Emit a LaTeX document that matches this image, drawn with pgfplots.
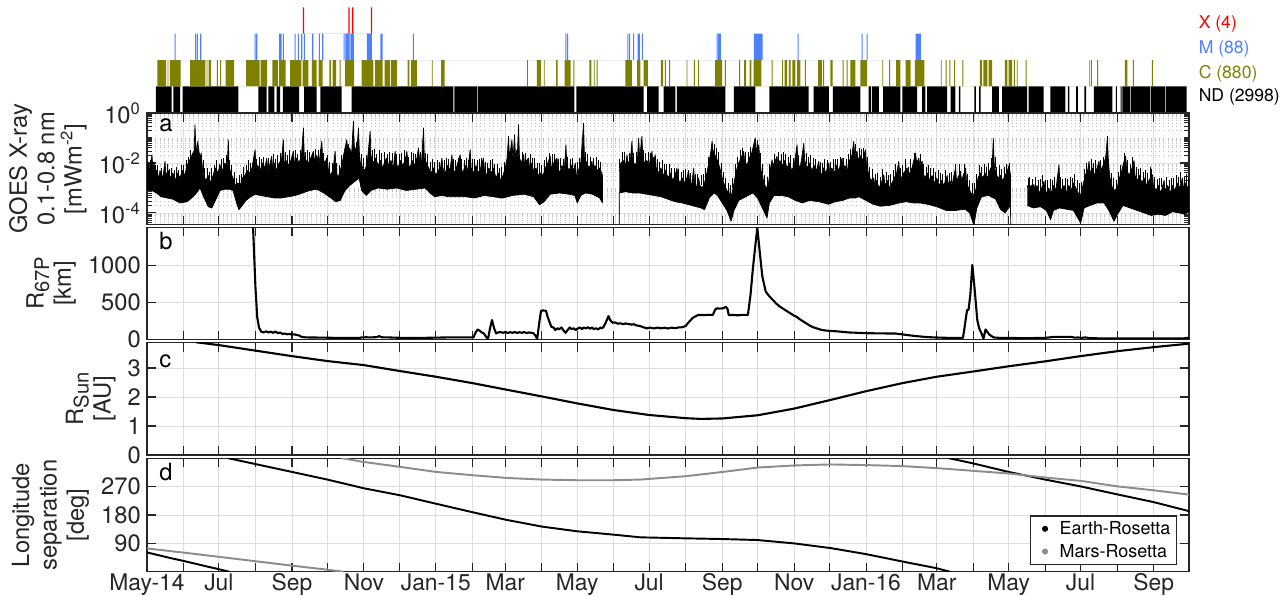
\documentclass[border=0pt]{standalone}
\usepackage{fontspec}
\setmainfont{TeX Gyre Heros}
\usepackage{pgfplots}
\pgfplotsset{compat=1.18}
\definecolor{axgray}{RGB}{38,38,38}
\definecolor{gridgray}{RGB}{222,222,222}
\definecolor{mingray}{RGB}{195,195,195}
\definecolor{mblue}{RGB}{77,128,255}
\definecolor{colive}{RGB}{128,128,0}
\definecolor{marsgray}{RGB}{140,140,140}
\newcommand{\tickfont}{\fontsize{13.5}{15.6}\selectfont}
\newcommand{\xtickfont}{\fontsize{13}{15}\selectfont}
\newcommand{\labfont}{\fontsize{13.5}{15.6}\selectfont}
\newcommand{\subfont}{\fontsize{11.5}{12}\selectfont}
\newcommand{\evfont}{\fontsize{10}{12}\selectfont}
\newcommand{\legfont}{\fontsize{10.2}{12}\selectfont}
\pgfplotsset{
  panel/.style={
    scale only axis, width=208.4mm,
    xmin=0, xmax=884,
    xtick={0,31,61,92,123,153,184,214,245,276,304,335,365,396,426,457,488,518,549,579,610,641,670,701,731,762,792,823,854,884},
    xticklabels={},
    xmajorgrids=true, ymajorgrids=true,
    major grid style={draw=gridgray, line width=0.5pt},
    axis line style={draw=axgray, line width=0.7pt},
    tick style={draw=axgray, line width=0.6pt},
    major tick length=1.8mm,
    minor tick length=1mm,
    tick align=inside,
    tick pos=both,
    ticklabel style={font=\tickfont, text=axgray},
    xticklabel style={font=\xtickfont, inner ysep=0.8pt},
    /pgf/number format/assume math mode=true,
    /pgf/number format/1000 sep={},
    ylabel style={font=\labfont, align=center, text=axgray},
  }
}
\begin{document}
\begin{tikzpicture}
\useasboundingbox (0,0) rectangle (256.8mm,-119.2mm);

% ---------------- event strips ----------------
\begin{axis}[at={(29.4mm,-1.46mm)}, anchor=north west, scale only axis,
  width=208.4mm, height=21.08mm, xmin=0, xmax=884, ymin=0, ymax=4,
  hide axis, clip=false]
\addplot[fill=black, draw=none] coordinates {
(7.6,0)(7.6,1)(20.9,1)(20.9,0) (22.4,0)(22.4,1)(28,1)(28,0) (30.3,0)(30.3,1)(77.5,1)(77.5,0)
(94.5,0)(94.5,1)(101.5,1)(101.5,0) (102.9,0)(102.9,1)(108,1)(108,0) (110,0)(110,1)(112.9,1)(112.9,0)
(115.2,0)(115.2,1)(129,1)(129,0) (133.3,0)(133.3,1)(144,1)(144,0) (147,0)(147,1)(165.2,1)(165.2,0)
(173.7,0)(173.7,1)(260,1)(260,0) (260.8,0)(260.8,1)(280,1)(280,0) (280.8,0)(280.8,1)(362.5,1)(362.5,0)
(364.2,0)(364.2,1)(421.3,1)(421.3,0) (424.2,0)(424.2,1)(434,1)(434,0) (438.3,0)(438.3,1)(448.2,1)(448.2,0)
(449.6,0)(449.6,1)(490.7,1)(490.7,0) (497.8,0)(497.8,1)(516.1,1)(516.1,0) (528,0)(528,1)(561.4,1)(561.4,0)
(565.6,0)(565.6,1)(578.4,1)(578.4,0) (581.8,0)(581.8,1)(605.3,1)(605.3,0) (612.3,0)(612.3,1)(614.3,1)(614.3,0)
(615.1,0)(615.1,1)(620.9,1)(620.9,0) (624.5,0)(624.5,1)(639.2,1)(639.2,0) (640.9,0)(640.9,1)(653.4,1)(653.4,0)
(657.6,0)(657.6,1)(660.4,1)(660.4,0) (661.8,0)(661.8,1)(678.9,1)(678.9,0) (681.7,0)(681.7,1)(685.9,1)(685.9,0)
(688.7,0)(688.7,1)(690.1,1)(690.1,0) (702,0)(702,1)(703.2,1)(703.2,0) (706,0)(706,1)(707.2,1)(707.2,0)
(717,0)(717,1)(722.7,1)(722.7,0) (725.5,0)(725.5,1)(746.6,1)(746.6,0) (748,0)(748,1)(760.7,1)(760.7,0)
(766.4,0)(766.4,1)(779.1,1)(779.1,0) (781.2,0)(781.2,1)(782.6,1)(782.6,0) (788.3,0)(788.3,1)(789.7,1)(789.7,0)
(795.3,0)(795.3,1)(796.7,1)(796.7,0) (803.2,0)(803.2,1)(818.9,1)(818.9,0) (822,0)(822,1)(822.8,1)(822.8,0)
(826,0)(826,1)(826.8,1)(826.8,0) (827.4,0)(827.4,1)(834.2,1)(834.2,0) (834.8,0)(834.8,1)(851.2,1)(851.2,0)
(851.8,0)(851.8,1)(863.9,1)(863.9,0) (864.5,0)(864.5,1)(882,1)(882,0)};
\addplot[fill=colive, draw=none] coordinates {
(8.7,1)(8.7,2)(16.2,2)(16.2,1) (17.5,1)(17.5,2)(18.2,2)(18.2,1) (19.5,1)(19.5,2)(28.6,2)(28.6,1)
(36.5,1)(36.5,2)(49.5,2)(49.5,1) (50.5,1)(50.5,2)(51.2,2)(51.2,1) (52.3,1)(52.3,2)(54.3,2)(54.3,1)
(59.3,1)(59.3,2)(60.1,2)(60.1,1) (62.1,1)(62.1,2)(62.9,2)(62.9,1) (66.8,1)(66.8,2)(73.9,2)(73.9,1)
(84,1)(84,2)(95.5,2)(95.5,1) (96.5,1)(96.5,2)(102,2)(102,1) (106.4,1)(106.4,2)(111,2)(111,1)
(112,1)(112,2)(117.7,2)(117.7,1) (121.4,1)(121.4,2)(131,2)(131,1) (132,1)(132,2)(136.9,2)(136.9,1)
(139.8,1)(139.8,2)(144,2)(144,1) (145.5,1)(145.5,2)(149.1,2)(149.1,1) (154.8,1)(154.8,2)(156,2)(156,1)
(157.5,1)(157.5,2)(160.4,2)(160.4,1) (163.4,1)(163.4,2)(164.2,2)(164.2,1) (168,1)(168,2)(175.7,2)(175.7,1)
(182,1)(182,2)(192,2)(192,1) (193.5,1)(193.5,2)(200,2)(200,1) (201.5,1)(201.5,2)(206,2)(206,1)
(207,1)(207,2)(212,2)(212,1) (221,1)(221,2)(222.5,2)(222.5,1) (224,1)(224,2)(229,2)(229,1)
(241.6,1)(241.6,2)(242.4,2)(242.4,1) (249.6,1)(249.6,2)(252.4,2)(252.4,1) (322.4,1)(322.4,2)(323.2,2)(323.2,1)
(330.8,1)(330.8,2)(334.2,2)(334.2,1) (336.6,1)(336.6,2)(337.4,2)(337.4,1) (347,1)(347,2)(348.3,2)(348.3,1)
(354.3,1)(354.3,2)(359.4,2)(359.4,1) (361.8,1)(361.8,2)(362.6,2)(362.6,1) (375.2,1)(375.2,2)(376.9,2)(376.9,1)
(379.2,1)(379.2,2)(379.8,2)(379.8,1) (381.5,1)(381.5,2)(382.3,2)(382.3,1) (405.8,1)(405.8,2)(411.4,2)(411.4,1)
(415.7,1)(415.7,2)(418.5,2)(418.5,1) (421.3,1)(421.3,2)(425,2)(425,1) (436,1)(436,2)(437.8,2)(437.8,1)
(439.3,1)(439.3,2)(440.1,2)(440.1,1) (443,1)(443,2)(443.8,2)(443.8,1) (457.7,1)(457.7,2)(458.5,2)(458.5,1)
(464,1)(464,2)(464.8,2)(464.8,1) (467.6,1)(467.6,2)(468.4,2)(468.4,1) (482,1)(482,2)(488,2)(488,1)
(490.3,1)(490.3,2)(491.1,2)(491.1,1) (502.4,1)(502.4,2)(503.2,2)(503.2,1) (506.5,1)(506.5,2)(508.2,2)(508.2,1)
(511.3,1)(511.3,2)(512.7,2)(512.7,1) (514.7,1)(514.7,2)(521.2,2)(521.2,1) (529.9,1)(529.9,2)(530.7,2)(530.7,1)
(538.8,1)(538.8,2)(539.5,2)(539.5,1) (541,1)(541,2)(543,2)(543,1) (544.5,1)(544.5,2)(546,2)(546,1)
(547.5,1)(547.5,2)(550,2)(550,1) (551.5,1)(551.5,2)(554.3,2)(554.3,1) (558.2,1)(558.2,2)(559,2)(559,1)
(569.3,1)(569.3,2)(572.6,2)(572.6,1) (573.6,1)(573.6,2)(574.4,2)(574.4,1) (579.8,1)(579.8,2)(581.7,2)(581.7,1)
(590.2,1)(590.2,2)(591,2)(591,1) (593.6,1)(593.6,2)(594.4,2)(594.4,1) (596.8,1)(596.8,2)(601,2)(601,1)
(605.3,1)(605.3,2)(611,2)(611,1) (623.8,1)(623.8,2)(624.6,2)(624.6,1) (629.6,1)(629.6,2)(630.4,2)(630.4,1)
(635.6,1)(635.6,2)(639.2,2)(639.2,1) (643.5,1)(643.5,2)(647.8,2)(647.8,1) (651.4,1)(651.4,2)(659.6,2)(659.6,1)
(673.4,1)(673.4,2)(674.2,2)(674.2,1) (677.6,1)(677.6,2)(678.4,2)(678.4,1) (680.7,1)(680.7,2)(681.5,2)(681.5,1)
(684.7,1)(684.7,2)(685.5,2)(685.5,1) (691.7,1)(691.7,2)(692.5,2)(692.5,1) (706.5,1)(706.5,2)(708.5,2)(708.5,1)
(709.5,1)(709.5,2)(713,2)(713,1) (714,1)(714,2)(717,2)(717,1) (727.8,1)(727.8,2)(730,2)(730,1)
(731,1)(731,2)(734,2)(734,1) (735.5,1)(735.5,2)(736.2,2)(736.2,1) (737.9,1)(737.9,2)(738.7,2)(738.7,1)
(745.5,1)(745.5,2)(746.3,2)(746.3,1) (799.4,1)(799.4,2)(800,2)(800,1) (800.7,1)(800.7,2)(801.5,2)(801.5,1)
(806.1,1)(806.1,2)(806.9,2)(806.9,1) (829.6,1)(829.6,2)(831.7,2)(831.7,1) (836.4,1)(836.4,2)(837.2,2)(837.2,1)
(852.5,1)(852.5,2)(853.3,2)(853.3,1)};
\addplot[fill=mblue, draw=none] coordinates {
(23.35,2)(23.35,3)(24.25,3)(24.25,2) (40.85,2)(40.85,3)(41.75,3)(41.75,2) (42.25,2)(42.25,3)(43.15,3)(43.15,2)
(45.15,2)(45.15,3)(46.05,3)(46.05,2) (91.25,2)(91.25,3)(92.15,3)(92.15,2) (92.65,2)(92.65,3)(93.55,3)(93.55,2)
(112.15,2)(112.15,3)(114.15,3)(114.15,2) (115.25,2)(115.25,3)(116.15,3)(116.15,2) (125.15,2)(125.15,3)(126.05,3)(126.05,2)
(128.05,2)(128.05,3)(128.95,3)(128.95,2) (130.85,2)(130.85,3)(131.75,3)(131.75,2) (133.05,2)(133.05,3)(133.95,3)(133.95,2)
(140.15,2)(140.15,3)(141.05,3)(141.05,2) (145.85,2)(145.85,3)(146.75,3)(146.75,2) (148.65,2)(148.65,3)(149.55,3)(149.55,2)
(166.75,2)(166.75,3)(167.65,3)(167.65,2) (168.2,2)(168.2,3)(172,3)(172,2) (172.6,2)(172.6,3)(175.5,3)(175.5,2)
(186.6,2)(186.6,3)(190.8,3)(190.8,2) (198,2)(198,3)(199.9,3)(199.9,2) (225.55,2)(225.55,3)(226.45,3)(226.45,2)
(354.95,2)(354.95,3)(355.85,3)(355.85,2) (356.35,2)(356.35,3)(357.25,3)(357.25,2) (407.55,2)(407.55,3)(408.45,3)(408.45,2)
(409.05,2)(409.05,3)(409.95,3)(409.95,2) (412.35,2)(412.35,3)(413.25,3)(413.25,2) (416.15,2)(416.15,3)(418.15,3)(418.15,2)
(419.75,2)(419.75,3)(420.65,3)(420.65,2) (483.15,2)(483.15,3)(484.05,3)(484.05,2) (484.55,2)(484.55,3)(486.85,3)(486.85,2)
(514.9,2)(514.9,3)(522.2,3)(522.2,2) (551.95,2)(551.95,3)(552.85,3)(552.85,2) (606.25,2)(606.25,3)(607.15,3)(607.15,2)
(610.55,2)(610.55,3)(611.45,3)(611.45,2) (652.1,2)(652.1,3)(656.6,3)(656.6,2)};
\addplot[fill=red, draw=none] coordinates {
(132.2,3)(132.2,4)(133.2,4)(133.2,3) (170.9,3)(170.9,4)(171.9,4)(171.9,3)
(174,3)(174,4)(175,4)(175,3) (190,3)(190,4)(191,4)(191,3)};
\node[anchor=west, inner sep=0pt, text=red, font=\evfont] at (axis cs:892,3.37) {X (4)};
\node[anchor=west, inner sep=0pt, text=mblue, font=\evfont] at (axis cs:892,2.43) {M (88)};
\node[anchor=west, inner sep=0pt, text=colive, font=\evfont] at (axis cs:892,1.49) {C (880)};
\node[anchor=west, inner sep=0pt, text=black, font=\evfont] at (axis cs:892,0.6) {ND (2998)};
\end{axis}

% ---------------- panel a ----------------
\begin{axis}[panel, at={(29.4mm,-22.6mm)}, anchor=north west, height=22.34mm,
  ymin=-4.47, ymax=0,
  ytick={-4,-2,0}, yticklabels={10\textsuperscript{-4},10\textsuperscript{-2},10\textsuperscript{0}},
  minor ytick={-4.398,-4.301,-4.222,-4.155,-4.097,-4.046,-3.699,-3.523,-3.398,-3.301,-3.222,-3.155,-3.097,-3.046,-3,-2.699,-2.523,-2.398,-2.301,-2.222,-2.155,-2.097,-2.046,-1.699,-1.523,-1.398,-1.301,-1.222,-1.155,-1.097,-1.046,-1,-0.699,-0.523,-0.398,-0.301,-0.222,-0.155,-0.097,-0.046},
  yminorgrids=true, minor grid style={draw=mingray, dotted, line width=0.5pt},
  ylabel={GOES X-ray\\0.1-0.8 nm\\{[}mWm\textsuperscript{-2}{]}}]
% segment 1: upper envelope forward, lower envelope backward
\addplot[fill=black, draw=black, line width=0.4pt, line join=round] coordinates {
(0,-2.2)(1,-2.0)(2,-2.3)(3,-2.1)(4.2,-1.67)(5,-2.2)(6,-2.0)(7,-2.4)(8,-2.3)(10,-2.6)(11,-2.3)(13,-2.6)(14,-2.4)(15.3,-1.93)(16,-2.5)(18,-2.3)(20,-2.6)(22,-2.4)(24,-2.7)(26,-2.4)(28,-2.6)(30,-2.3)(32,-2.5)(34,-2.1)(36,-1.9)(38,-1.7)(40,-1.5)(40.7,-0.47)(41.3,-1.2)(42.5,-1.6)(43,-1.13)(44,-1.5)(45,-1.8)(46,-1.6)(47,-2.2)(48,-2.5)(50,-2.7)(52,-2.5)(54,-2.8)(56,-2.5)(58,-2.2)(60,-2.4)(62,-2.1)(64,-2.3)(66,-2.0)(68,-2.2)(69,-1.07)(69.6,-2.1)(71,-2.4)(73,-2.6)(75,-2.9)(77,-2.8)(79,-2.9)(81,-2.6)(83,-2.5)(85,-2.3)(87,-2.4)(89,-2.2)(91.7,-1.47)(92.5,-2.2)(94,-2.1)(96,-2.3)(98,-2.0)(100,-2.2)(101.6,-1.8)(102.5,-2.3)(104,-2.1)(105.8,-1.73)(106.6,-2.2)(108,-2.0)(110,-2.3)(112,-2.0)(114,-1.9)(115.7,-1.07)(116.4,-2.0)(118,-1.9)(120,-2.1)(122,-1.9)(124.2,-1.53)(125,-2.0)(127,-1.8)(129,-2.0)(131,-1.7)(132.7,-0.6)(133.4,-1.7)(135,-1.9)(137,-2.0)(139,-1.8)(141.2,-1.53)(142,-1.9)(144,-1.7)(146,-2.0)(148.3,-1.13)(149,-1.8)(151,-2.0)(152.5,-1.8)(154,-2.3)(156,-2.5)(158,-2.2)(159.6,-1.53)(160.4,-2.3)(162,-2.6)(164,-2.3)(166,-1.9)(167.5,-1.5)(169.5,-1.07)(170.5,-1.6)(172,-1.4)(173.5,-1.7)(175.1,-0.33)(175.8,-1.3)(177,-1.5)(178.5,-1.2)(179.4,-0.6)(180.2,-1.6)(181,-2.0)(183,-2.2)(185,-2.3)(187,-1.9)(189.3,-0.73)(190,-1.7)(192,-2.0)(194,-1.8)(196,-2.1)(198,-1.9)(200,-2.2)(202,-1.9)(203.5,-1.8)(205,-2.1)(207,-1.9)(209,-2.2)(210.5,-1.53)(211.5,-2.0)(213,-2.2)(215,-1.9)(217,-2.1)(219,-1.9)(220.4,-1.53)(221.5,-2.0)(223,-2.2)(225,-1.9)(227,-2.1)(229,-1.8)(230.3,-1.4)(231.5,-2.0)(233,-1.9)(234.6,-0.6)(235.3,-1.8)(237,-2.0)(239,-2.2)(241,-2.4)(243,-2.2)(245,-2.5)(247,-2.3)(249,-2.2)(250.2,-1.8)(251,-2.2)(253,-2.4)(255,-2.1)(257,-2.3)(258.7,-1.67)(259.5,-2.2)(261,-2.4)(263,-2.1)(265.7,-1.67)(266.5,-2.2)(268,-2.4)(270,-2.1)(272,-2.3)(274.2,-1.47)(275,-2.2)(277,-2.4)(279,-2.1)(281,-2.4)(283,-2.2)(285.5,-1.8)(286.3,-2.3)(288,-2.5)(290,-2.2)(292,-2.4)(294,-2.2)(296,-2.6)(298,-2.4)(300,-2.7)(302,-2.5)(304,-2.2)(305.5,-1.8)(306.7,-0.93)(307.5,-1.8)(309.6,-1.07)(310.5,-1.9)(311.8,-0.87)(312.6,-1.7)(314,-1.9)(315.2,-0.47)(316,-1.8)(317.5,-2.0)(319.5,-1.67)(320.5,-2.1)(322,-1.9)(323.7,-1.8)(324.5,-2.2)(326,-2.0)(328,-2.3)(330,-2.2)(332,-2.5)(334,-2.4)(336,-2.5)(338,-2.2)(340,-2.0)(342.1,-1.73)(343,-2.2)(345,-2.0)(347.8,-1.8)(348.6,-2.2)(350,-2.4)(352,-2.1)(354,-2.3)(355.4,-1.27)(356.2,-2.1)(358,-2.3)(360,-2.1)(362,-2.3)(363.3,-2.0)(364.5,-2.6)(366,-2.3)(368,-2.0)(370.4,-0.4)(371.1,-1.8)(373,-2.0)(375,-2.2)(377.5,-1.93)(378.3,-2.3)(380,-2.1)(382,-2.3)(384,-2.2)(386.5,-2.5)
(386.5,-3.6)(384,-3.4)(378,-3.25)(372,-3.2)(368,-3.3)(365,-3.6)(363,-3.3)(358,-3.25)(350,-3.2)(342,-3.25)(337,-3.55)(333,-3.67)(328,-3.35)(320,-3.25)(310,-3.3)(302,-3.4)(300,-3.4)(294,-3.35)(286,-3.3)(278,-3.4)(270,-3.35)(262,-3.35)(256,-3.35)(250,-3.3)(244,-3.35)(240,-3.2)(236,-3.0)(228,-3.05)(220,-3.1)(212,-3.0)(204,-3.05)(196,-3.0)(190,-3.1)(186,-3.3)(182,-3.1)(180,-2.6)(176,-2.75)(172,-2.9)(168,-3.1)(164,-3.5)(160,-3.55)(156,-3.4)(150,-3.2)(144,-3.05)(138,-3.1)(132,-3.2)(126,-3.3)(120,-3.35)(114,-3.4)(108,-3.4)(102,-3.35)(96,-3.3)(92,-3.25)(88,-3.35)(84,-3.5)(80,-3.75)(78,-3.87)(76,-3.6)(73,-3.1)(70,-3.05)(66,-3.05)(62,-3.1)(58,-3.5)(55,-3.8)(52,-3.75)(48,-3.35)(45,-3.0)(42,-3.2)(38,-3.4)(34,-3.55)(28,-3.6)(22,-3.45)(17,-3.4)(12,-3.35)(8,-3.2)(4,-3.1)(0,-3.07)};
% segment 2
\addplot[fill=black, draw=black, line width=0.4pt, line join=round] coordinates {
(400.7,-2.33)(402,-2.0)(404,-1.9)(406,-2.1)(407.2,-1.67)(408,-2.0)(410,-1.9)(411.4,-1.13)(412.2,-1.9)(414,-2.1)(416,-1.9)(417.1,-1.0)(418,-1.8)(419.9,-0.93)(420.7,-1.8)(422,-2.0)(424,-1.9)(426,-2.1)(428.4,-1.53)(429.2,-2.1)(431.2,-1.67)(432,-2.2)(434,-2.4)(436,-2.2)(438,-2.5)(440,-2.3)(442,-2.6)(444,-2.4)(446,-2.7)(448,-2.5)(449.6,-2.2)(450.5,-2.6)(452,-2.8)(454,-2.6)(456,-2.8)(458,-2.6)(459.5,-2.3)(460.3,-2.7)(462,-2.9)(463.8,-2.2)(464.6,-2.8)(466,-3.0)(468,-2.6)(469,-2.9)(471,-3.0)(473,-2.8)(475,-2.4)(477,-1.9)(478.5,-1.5)(479.4,-1.13)(480.2,-1.5)(482,-1.7)(484,-1.9)(486,-2.2)(488,-2.6)(490,-2.9)(492,-3.1)(494,-3.2)(496,-3.27)(498,-2.8)(500,-2.3)(502,-2.0)(504,-1.8)(506.2,-1.53)(507,-1.9)(509,-2.1)(511,-1.8)(513,-1.6)(514.5,-1.3)(516.1,-1.0)(517,-1.5)(519,-1.27)(519.8,-1.8)(521,-2.3)(523,-2.7)(525,-3.0)(527,-2.9)(529,-2.2)(530.3,-1.87)(531,-2.1)(533,-1.9)(534.5,-1.73)(535.3,-2.1)(537,-1.9)(539,-2.1)(541,-1.9)(543,-2.2)(545,-2.0)(547,-2.3)(549,-2.1)(551.5,-1.27)(552.3,-2.0)(554,-2.2)(555.5,-1.8)(557.2,-1.2)(558,-1.9)(560,-2.2)(562,-2.0)(564,-2.3)(566,-2.1)(568,-2.3)(569.9,-1.93)(570.7,-2.3)(572,-2.5)(574,-2.2)(576,-2.4)(578.4,-2.0)(579.2,-2.4)(581,-2.2)(583,-2.4)(585,-2.1)(587,-2.3)(589.7,-1.8)(590.5,-2.3)(592,-2.1)(594,-2.3)(596,-1.9)(598,-1.7)(599.6,-1.13)(600.4,-1.7)(602.4,-1.53)(603.2,-1.9)(605,-1.7)(607,-1.9)(609.5,-1.47)(610.3,-2.0)(612,-2.4)(614,-2.7)(616.6,-2.6)(617.4,-2.9)(619,-2.7)(621,-3.0)(623,-2.8)(625.1,-2.47)(626,-2.9)(628,-2.7)(630,-3.0)(632,-2.8)(634,-2.6)(636,-2.4)(637.8,-1.93)(638.6,-2.5)(640,-2.6)(642,-2.4)(644.9,-2.2)(645.7,-2.6)(647,-2.4)(649,-2.2)(650.5,-1.9)(652,-1.6)(653,-2.0)(654.8,-1.8)(655.6,-2.1)(657.6,-1.93)(658.4,-2.4)(660,-2.6)(662,-2.4)(664,-2.7)(666,-2.5)(668,-2.8)(670,-2.6)(672,-2.9)(674,-2.7)(676,-2.9)(678.9,-2.5)(679.7,-2.9)(681,-2.7)(683,-2.9)(684.5,-2.5)(686,-2.2)(686.8,-2.7)(688,-2.6)(690.2,-2.33)(691,-2.7)(692.5,-2.5)(694.5,-2.2)(695.3,-2.8)(697,-3.0)(699,-3.2)(701,-3.3)(703,-3.1)(705,-2.6)(707,-2.4)(709,-2.6)(711,-2.4)(713,-2.6)(715,-2.3)(717,-2.1)(718,-1.0)(718.7,-2.0)(720,-2.4)(722,-2.6)(724,-2.5)(726,-2.7)(728,-2.5)(730,-2.3)(731.3,-2.1)(732.6,-2.5)
(732.7,-4.6)(732.6,-3.7)(731,-3.8)(728,-4.0)(724,-3.85)(720,-3.45)(714,-3.3)(708,-3.35)(704,-3.8)(701.5,-4.5)(698,-4.0)(694,-3.85)(686,-3.9)(678,-3.9)(670,-3.75)(662,-3.65)(656,-3.6)(650,-3.6)(644,-3.55)(638,-3.6)(630,-3.7)(622,-3.73)(616,-3.65)(610,-3.5)(604,-3.35)(601,-3.4)(596,-3.4)(590,-3.5)(584,-3.55)(578,-3.65)(570,-3.55)(562,-3.5)(556,-3.6)(550,-3.5)(544,-3.35)(538,-3.3)(532,-3.3)(528,-3.6)(526,-4.2)(522,-3.8)(518,-3.4)(514,-3.2)(508,-3.35)(502,-3.5)(498,-3.9)(495.5,-4.33)(492,-3.9)(488,-3.6)(484,-3.3)(481,-3.2)(477,-3.4)(473,-3.87)(470,-3.8)(466,-3.75)(462,-3.7)(458,-3.65)(454,-3.6)(448,-3.55)(442,-3.45)(436,-3.35)(430,-3.3)(424,-3.25)(418,-3.2)(412,-3.2)(406,-3.15)(400.7,-3.2)(400.6,-4.6)};
% segment 3
\addplot[fill=black, draw=black, line width=0.4pt, line join=round] coordinates {
(746.8,-2.9)(748,-3.1)(750,-2.9)(752.5,-2.87)(753.3,-3.1)(755,-2.9)(757,-3.2)(759,-3.0)(761,-2.73)(761.8,-3.1)(763,-3.2)(765,-3.0)(767,-3.2)(769,-2.9)(771,-3.1)(773.7,-2.07)(774.5,-2.9)(776,-3.1)(778,-2.9)(780,-3.2)(782,-2.9)(784,-3.1)(786,-2.8)(788,-3.0)(790,-3.2)(792,-3.3)(794,-2.9)(796,-2.5)(798,-2.3)(799.2,-1.93)(800,-2.4)(802,-2.2)(804,-2.5)(806,-2.2)(807.7,-1.93)(808.5,-2.4)(810,-2.2)(812,-2.0)(813.5,-1.7)(814.8,-0.93)(815.6,-2.0)(817,-2.6)(819,-3.0)(821,-3.1)(823,-3.0)(825,-2.6)(827,-2.3)(828.5,-2.0)(830.3,-1.73)(831,-2.2)(833,-2.5)(835,-2.3)(837.4,-1.9)(838.2,-2.5)(840,-2.7)(842,-2.5)(844,-2.8)(846,-2.6)(848,-2.9)(850,-2.7)(853,-2.47)(853.8,-2.9)(856,-3.1)(858,-2.9)(860,-3.2)(862.9,-2.7)(863.7,-3.1)(866,-2.9)(868,-3.2)(870,-2.9)(872,-3.1)(874,-2.8)(876,-3.0)(878.4,-2.6)(879.2,-3.0)(881,-2.8)(883,-3.0)(884,-2.9)
(884,-3.95)(880,-4.05)(876,-4.0)(870,-3.95)(864,-4.1)(858,-4.05)(852,-4.1)(846,-4.0)(840,-3.9)(834,-3.8)(828,-3.7)(824,-4.0)(820.4,-4.33)(816,-3.9)(812,-3.6)(806,-3.6)(800,-3.7)(795,-3.8)(792.1,-4.4)(786,-3.9)(780,-3.85)(774,-3.8)(769,-3.9)(766.6,-4.27)(763,-3.9)(758,-3.75)(752,-3.8)(746.8,-3.7)};
% thin flare spikes on top of the band
\addplot[draw=none, mark=none, forget plot, error bars/.cd, y dir=plus, y explicit, error mark=none,
  error bar style={draw=black, line width=0.45pt}] coordinates {
(0.5,-2.3)+-(0,0.3) (2.5,-2.3)+-(0,0.4) (5.5,-2.3)+-(0,0.35) (7.5,-2.4)+-(0,0.3) (9,-2.5)+-(0,0.4) (12,-2.55)+-(0,0.35) (14.5,-2.5)+-(0,0.3) (17,-2.5)+-(0,0.45) (19,-2.55)+-(0,0.3) (21,-2.6)+-(0,0.4) (23,-2.6)+-(0,0.3) (25,-2.6)+-(0,0.45) (27,-2.6)+-(0,0.3) (29,-2.5)+-(0,0.4) (31,-2.45)+-(0,0.35) (33,-2.4)+-(0,0.5) (35,-2.2)+-(0,0.45) (37,-2.0)+-(0,0.5) (39,-1.9)+-(0,0.3)
(47.5,-2.4)+-(0,0.5) (49,-2.6)+-(0,0.4) (51,-2.65)+-(0,0.45) (53,-2.7)+-(0,0.35) (55,-2.7)+-(0,0.5) (57,-2.5)+-(0,0.4) (59,-2.4)+-(0,0.5) (61,-2.35)+-(0,0.3) (63,-2.3)+-(0,0.45) (65,-2.2)+-(0,0.4) (67,-2.2)+-(0,0.5) (70,-2.3)+-(0,0.4) (72,-2.5)+-(0,0.4) (74,-2.8)+-(0,0.45) (76,-2.9)+-(0,0.3) (78,-2.9)+-(0,0.4) (80,-2.8)+-(0,0.35) (82,-2.6)+-(0,0.45) (84,-2.5)+-(0,0.4) (86,-2.4)+-(0,0.5) (88,-2.35)+-(0,0.35) (90,-2.3)+-(0,0.45) (93,-2.25)+-(0,0.4) (95,-2.25)+-(0,0.5) (97,-2.2)+-(0,0.35) (99,-2.2)+-(0,0.45)
(103,-2.2)+-(0,0.4) (107,-2.1)+-(0,0.45) (109,-2.2)+-(0,0.35) (111,-2.2)+-(0,0.5) (113,-2.0)+-(0,0.4) (117,-2.0)+-(0,0.45) (119,-2.0)+-(0,0.3) (121,-2.0)+-(0,0.5) (123,-2.0)+-(0,0.35) (126,-1.95)+-(0,0.45) (128,-1.95)+-(0,0.3) (130,-1.9)+-(0,0.4) (134,-1.9)+-(0,0.35) (136,-2.0)+-(0,0.5) (138,-1.95)+-(0,0.4) (140,-1.9)+-(0,0.3) (143,-1.9)+-(0,0.45) (145,-1.9)+-(0,0.4) (147,-1.95)+-(0,0.5) (150,-1.95)+-(0,0.35) (153,-2.1)+-(0,0.4) (155,-2.4)+-(0,0.45) (157,-2.4)+-(0,0.4) (161,-2.45)+-(0,0.45) (163,-2.45)+-(0,0.35) (165,-2.1)+-(0,0.4) (171,-1.6)+-(0,0.35) (174,-1.6)+-(0,0.5) (177.8,-1.45)+-(0,0.3)
(182,-2.1)+-(0,0.45) (184,-2.2)+-(0,0.4) (186,-2.2)+-(0,0.5) (188,-2.0)+-(0,0.45) (191,-1.9)+-(0,0.4) (193,-1.9)+-(0,0.45) (195,-2.0)+-(0,0.35) (197,-2.0)+-(0,0.5) (199,-2.0)+-(0,0.4) (201,-2.0)+-(0,0.45) (204,-2.0)+-(0,0.35) (206,-2.0)+-(0,0.45) (208,-2.0)+-(0,0.4) (212,-2.1)+-(0,0.45) (214,-2.0)+-(0,0.35) (216,-2.0)+-(0,0.4) (218,-2.0)+-(0,0.5) (222,-2.1)+-(0,0.35) (224,-2.0)+-(0,0.45) (226,-2.0)+-(0,0.4) (228,-2.0)+-(0,0.35) (232,-2.0)+-(0,0.45) (236,-2.0)+-(0,0.4) (238,-2.1)+-(0,0.45) (240,-2.3)+-(0,0.35) (242,-2.3)+-(0,0.45) (244,-2.35)+-(0,0.4) (246,-2.4)+-(0,0.5) (248,-2.3)+-(0,0.35)
(252,-2.3)+-(0,0.4) (254,-2.25)+-(0,0.45) (256,-2.2)+-(0,0.35) (260,-2.3)+-(0,0.45) (262,-2.25)+-(0,0.35) (264,-2.2)+-(0,0.4) (267,-2.3)+-(0,0.45) (269,-2.25)+-(0,0.35) (271,-2.2)+-(0,0.4) (273,-2.25)+-(0,0.35) (276,-2.3)+-(0,0.45) (278,-2.25)+-(0,0.4) (280,-2.25)+-(0,0.35) (282,-2.3)+-(0,0.45) (284,-2.2)+-(0,0.4) (287,-2.4)+-(0,0.45) (289,-2.35)+-(0,0.35) (291,-2.3)+-(0,0.4) (293,-2.3)+-(0,0.45) (295,-2.4)+-(0,0.35) (297,-2.5)+-(0,0.45) (299,-2.55)+-(0,0.35) (301,-2.6)+-(0,0.45) (303,-2.35)+-(0,0.4)
(308.5,-1.9)+-(0,0.4) (313,-1.85)+-(0,0.35) (318.5,-2.0)+-(0,0.45) (321,-2.0)+-(0,0.4) (325,-2.1)+-(0,0.45) (327,-2.15)+-(0,0.35) (329,-2.25)+-(0,0.45) (331,-2.35)+-(0,0.35) (333,-2.45)+-(0,0.45) (335,-2.45)+-(0,0.35) (337,-2.35)+-(0,0.45) (339,-2.1)+-(0,0.35) (341,-2.0)+-(0,0.4) (344,-2.1)+-(0,0.45) (346,-2.0)+-(0,0.35) (349,-2.3)+-(0,0.45) (351,-2.2)+-(0,0.4) (353,-2.2)+-(0,0.35) (357,-2.2)+-(0,0.45) (359,-2.2)+-(0,0.35) (361,-2.2)+-(0,0.4) (365,-2.4)+-(0,0.45) (367,-2.15)+-(0,0.35) (369,-2.0)+-(0,0.4) (372,-1.9)+-(0,0.35) (374,-2.1)+-(0,0.45) (376,-2.1)+-(0,0.35) (379,-2.2)+-(0,0.4) (381,-2.2)+-(0,0.45) (383,-2.25)+-(0,0.35) (385,-2.35)+-(0,0.4)
(401,-2.2)+-(0,0.35) (403,-1.95)+-(0,0.4) (405,-2.0)+-(0,0.45) (409,-1.95)+-(0,0.35) (413,-2.0)+-(0,0.4) (415,-2.0)+-(0,0.45) (421,-1.9)+-(0,0.4) (423,-1.95)+-(0,0.35) (425,-2.0)+-(0,0.45) (427,-2.0)+-(0,0.4) (430,-2.1)+-(0,0.35) (433,-2.3)+-(0,0.45) (435,-2.3)+-(0,0.35) (437,-2.35)+-(0,0.45) (439,-2.4)+-(0,0.35) (441,-2.45)+-(0,0.4) (443,-2.5)+-(0,0.45) (445,-2.55)+-(0,0.35) (447,-2.6)+-(0,0.4) (451,-2.7)+-(0,0.45) (453,-2.7)+-(0,0.35) (455,-2.7)+-(0,0.4) (457,-2.7)+-(0,0.45) (461,-2.8)+-(0,0.4) (465,-2.9)+-(0,0.45) (467,-2.8)+-(0,0.35) (470,-2.9)+-(0,0.4) (472,-2.9)+-(0,0.45) (474,-2.6)+-(0,0.4) (476,-2.1)+-(0,0.35)
(481,-1.6)+-(0,0.35) (483,-1.8)+-(0,0.4) (485,-2.0)+-(0,0.45) (487,-2.4)+-(0,0.4) (489,-2.7)+-(0,0.35) (491,-3.0)+-(0,0.4) (493,-3.15)+-(0,0.35) (495,-3.2)+-(0,0.3) (497,-3.0)+-(0,0.4) (499,-2.5)+-(0,0.45) (501,-2.1)+-(0,0.35) (503,-1.9)+-(0,0.4) (505,-1.7)+-(0,0.3) (508,-2.0)+-(0,0.45) (510,-1.9)+-(0,0.35) (512,-1.7)+-(0,0.35) (518,-1.4)+-(0,0.3) (520.5,-2.0)+-(0,0.4) (522,-2.5)+-(0,0.45) (524,-2.85)+-(0,0.35) (526,-2.95)+-(0,0.4) (528,-2.5)+-(0,0.45) (532,-2.0)+-(0,0.35) (536,-2.0)+-(0,0.45) (538,-2.0)+-(0,0.35) (540,-2.0)+-(0,0.45) (542,-2.05)+-(0,0.4) (544,-2.1)+-(0,0.35) (546,-2.15)+-(0,0.45) (548,-2.2)+-(0,0.4) (550,-2.1)+-(0,0.35)
(553,-2.1)+-(0,0.4) (556.3,-2.0)+-(0,0.35) (559,-2.05)+-(0,0.45) (561,-2.1)+-(0,0.35) (563,-2.15)+-(0,0.45) (565,-2.2)+-(0,0.4) (567,-2.2)+-(0,0.35) (571.5,-2.4)+-(0,0.45) (573,-2.35)+-(0,0.35) (575,-2.3)+-(0,0.45) (577,-2.3)+-(0,0.4) (580,-2.3)+-(0,0.35) (582,-2.3)+-(0,0.45) (584,-2.25)+-(0,0.4) (586,-2.2)+-(0,0.35) (588,-2.2)+-(0,0.45) (591,-2.2)+-(0,0.4) (593,-2.2)+-(0,0.35) (595,-2.1)+-(0,0.45) (597,-1.8)+-(0,0.35) (601,-1.6)+-(0,0.35) (604,-1.8)+-(0,0.4) (606,-1.8)+-(0,0.35) (608,-1.8)+-(0,0.4) (611,-2.2)+-(0,0.45) (613,-2.55)+-(0,0.4) (615,-2.7)+-(0,0.45) (618,-2.8)+-(0,0.35) (620,-2.85)+-(0,0.45) (622,-2.9)+-(0,0.35) (624,-2.65)+-(0,0.4) (627,-2.8)+-(0,0.45) (629,-2.85)+-(0,0.35) (631,-2.9)+-(0,0.45) (633,-2.7)+-(0,0.4) (635,-2.5)+-(0,0.45)
(639,-2.55)+-(0,0.35) (641,-2.5)+-(0,0.4) (643,-2.3)+-(0,0.45) (646,-2.5)+-(0,0.35) (648,-2.3)+-(0,0.45) (651,-2.0)+-(0,0.4) (656.5,-2.0)+-(0,0.35) (659,-2.5)+-(0,0.45) (661,-2.5)+-(0,0.35) (663,-2.55)+-(0,0.45) (665,-2.6)+-(0,0.4) (667,-2.65)+-(0,0.45) (669,-2.7)+-(0,0.35) (671,-2.75)+-(0,0.45) (673,-2.8)+-(0,0.4) (675,-2.8)+-(0,0.35) (677,-2.75)+-(0,0.45) (680.5,-2.8)+-(0,0.4) (682,-2.8)+-(0,0.45) (685.5,-2.4)+-(0,0.35) (689,-2.45)+-(0,0.4) (693.5,-2.4)+-(0,0.35) (696,-2.9)+-(0,0.45) (698,-3.1)+-(0,0.4) (700,-3.25)+-(0,0.45) (702,-3.2)+-(0,0.4) (704,-2.9)+-(0,0.45) (706,-2.5)+-(0,0.4) (708,-2.5)+-(0,0.35) (710,-2.5)+-(0,0.45) (712,-2.5)+-(0,0.35) (714,-2.45)+-(0,0.45) (716,-2.2)+-(0,0.4) (719.5,-2.2)+-(0,0.45) (721,-2.5)+-(0,0.35) (723,-2.55)+-(0,0.45) (725,-2.6)+-(0,0.35) (727,-2.6)+-(0,0.45) (729,-2.4)+-(0,0.35) (732,-2.3)+-(0,0.3)
(747.5,-3.0)+-(0,0.4) (749,-3.0)+-(0,0.45) (751,-3.0)+-(0,0.35) (754,-3.0)+-(0,0.45) (756,-3.05)+-(0,0.35) (758,-3.1)+-(0,0.45) (760,-2.85)+-(0,0.35) (762.5,-3.15)+-(0,0.45) (764,-3.1)+-(0,0.4) (766,-3.1)+-(0,0.45) (768,-3.05)+-(0,0.35) (770,-3.0)+-(0,0.45) (772,-3.0)+-(0,0.4) (775,-3.0)+-(0,0.45) (777,-3.0)+-(0,0.35) (779,-3.05)+-(0,0.45) (781,-3.05)+-(0,0.4) (783,-3.0)+-(0,0.45) (785,-2.95)+-(0,0.35) (787,-2.9)+-(0,0.45) (789,-3.1)+-(0,0.4) (791,-3.25)+-(0,0.45) (793,-3.1)+-(0,0.35) (795,-2.7)+-(0,0.45) (797,-2.4)+-(0,0.4) (801,-2.3)+-(0,0.45) (803,-2.35)+-(0,0.35) (805,-2.35)+-(0,0.45) (809,-2.3)+-(0,0.4) (811,-2.1)+-(0,0.35) (816,-2.3)+-(0,0.45)
(818,-2.8)+-(0,0.4) (820,-3.05)+-(0,0.45) (822,-3.05)+-(0,0.35) (824,-2.8)+-(0,0.45) (826,-2.45)+-(0,0.35) (829.5,-1.9)+-(0,0.3) (832,-2.35)+-(0,0.45) (834,-2.4)+-(0,0.35) (836,-2.1)+-(0,0.35) (839,-2.6)+-(0,0.45) (841,-2.6)+-(0,0.35) (843,-2.65)+-(0,0.45) (845,-2.7)+-(0,0.35) (847,-2.75)+-(0,0.45) (849,-2.8)+-(0,0.4) (851,-2.6)+-(0,0.45) (852,-2.55)+-(0,0.3) (855,-3.0)+-(0,0.45) (857,-3.0)+-(0,0.35) (859,-3.05)+-(0,0.45) (861,-2.95)+-(0,0.35) (865,-3.0)+-(0,0.45) (867,-3.05)+-(0,0.35) (869,-3.05)+-(0,0.45) (871,-3.0)+-(0,0.4) (873,-2.95)+-(0,0.45) (875,-2.9)+-(0,0.35) (877,-2.8)+-(0,0.45) (880,-2.9)+-(0,0.35) (882,-2.9)+-(0,0.45) (883.5,-2.95)+-(0,0.35)};
\node[anchor=base west, font=\labfont] at (rel axis cs:0.0058,0.83) {a};
\end{axis}

% ---------------- panel b ----------------
\begin{axis}[panel, at={(29.4mm,-45.46mm)}, anchor=north west, height=22.44mm,
  ymin=0, ymax=1507, ytick={0,500,1000},
  ylabel={R\raisebox{-0.45ex}{\subfont 67P}\\{[}km{]}}]
\addplot[black, line width=1.2pt, line join=round] coordinates {
(85,4000)(90,1500)(92,700)(93.5,300)(95,160)(97,103)(99,95)(101,110)(103,95)(105,105)(107,90)(109,108)(111,85)(113,95)(115,75)(117,80)(119,70)(121,75)(123,65)(125,70)(127,60)(129,55)(131,35)(135,28)(140,27)(150,25)(160,22)(170,20)(180,20)(182,28)(186,30)(190,28)(195,32)(197,45)(199,30)(205,28)(215,22)(225,20)(235,22)(245,25)(255,28)(265,28)(275,28)(277,30)(279,100)(280.6,135)(282,120)(284,95)(285.8,81)(287.5,40)(289.3,6)(291,150)(292.7,261)(294.5,150)(296.2,81)(298,95)(300,100)(302,90)(304,100)(306,88)(308,98)(310,90)(312,100)(314,88)(316,98)(318,90)(320,100)(322,85)(324,95)(326,90)(328,85)(330,40)(331,5)(333,250)(334.3,387)(336,390)(338.5,385)(340,300)(343,171)(345,160)(346.4,126)(348,150)(350,140)(351.6,162)(353,130)(355.1,90)(357,130)(358.6,162)(360,140)(362,150)(363.8,126)(365,145)(367.2,162)(369,140)(370.5,160)(372.4,150)(374,165)(376,145)(377.6,162)(379,140)(381,150)(382.8,135)(384.5,160)(386,150)(387.3,170)(389,220)(391.5,315)(393,260)(394.9,225)(397,230)(399,215)(401.9,216)(404,205)(406,215)(408.8,207)(411,200)(413,205)(415,190)(418.5,180)(421,165)(424,150)(427,160)(430,148)(433,160)(436,150)(439,158)(442,148)(445,160)(448,152)(451,162)(454,165)(456.9,180)(460,240)(463,290)(467.3,328)(470,330)(473,328)(476,332)(478,330)(480,330)(482,400)(483,418)(486,415)(489,420)(491,440)(492.5,410)(493.5,328)(497,330)(501,325)(505,330)(509.8,330)(512,600)(514,950)(516,1250)(517.8,1500)(520,1150)(522,850)(524.9,643)(528,580)(531,530)(534,480)(537,441)(540,410)(543,380)(546,350)(549,320)(551,306)(554,270)(557,240)(560,210)(563,180)(566,160)(568.4,148)(572,130)(576,120)(580,115)(585,110)(590,103)(595,95)(600,92)(605,88)(610,85)(615,84)(620,82)(625,82)(630,80)(634.6,81)(640,70)(645,60)(650,50)(655,42)(660,35)(665,30)(669.5,27)(675,24)(680,22)(685,21)(692.2,21)(693.5,150)(695.7,396)(697,400)(698.5,600)(700.2,1003)(702,700)(704.4,261)(706,150)(708,80)(709.6,13)(711.4,135)(713,100)(715,60)(718.4,27)(725,20)(735,20)(745,18)(755,20)(762,22)(770,36)(778,36)(784.6,34)(787,25)(790,27)(793,22)(796,28)(800,18)(810,15)(820,15)(830,14)(840,15)(850,15)(860,15)(870,16)(880,16)(884,25)};
\node[anchor=base west, font=\labfont] at (rel axis cs:0.0058,0.798) {b};
\end{axis}

% ---------------- panel c ----------------
\begin{axis}[panel, at={(29.4mm,-68.5mm)}, anchor=north west, height=22.5mm,
  ymin=0, ymax=3.88, ytick={0,1,2,3},
  ylabel={R\raisebox{-0.45ex}{\subfont Sun}\\{[}AU{]}}]
\addplot[black, line width=1.2pt] coordinates {
(41.5,3.89)(61,3.79)(92,3.6)(123,3.41)(153,3.24)(184,3.1)(214,2.9)(245,2.7)(276,2.48)(304,2.26)(335,2.02)(365,1.78)(396,1.55)(426,1.38)(457,1.27)(470,1.245)(488,1.26)(518,1.37)(549,1.6)(580,1.9)(610,2.2)(641,2.48)(670,2.7)(701,2.88)(731,3.06)(762,3.23)(792,3.41)(823,3.58)(854,3.72)(884,3.84)};
\node[anchor=base west, font=\labfont] at (rel axis cs:0.0058,0.782) {c};
\end{axis}

% ---------------- panel d ----------------
\begin{axis}[panel, at={(29.4mm,-91.68mm)}, anchor=north west, height=22.64mm,
  ymin=0, ymax=360, ytick={90,180,270},
  xticklabels={May-14,,Jul,,Sep,,Nov,,Jan-15,,Mar,,May,,Jul,,Sep,,Nov,,Jan-16,,Mar,,May,,Jul,,Sep,},
  ylabel={Longitude\\separation\\{[}deg{]}},
  legend style={at={(rel axis cs:0.9885,0.054)}, anchor=south east, draw=axgray,
    fill=white, font=\legfont, inner xsep=2pt, inner ysep=1.5pt, row sep=1pt,
    nodes={inner sep=1.5pt}, cells={anchor=west}, line width=0.6pt},
  legend image code/.code={\path (0,0) (0.42cm,0); \fill[#1] (0.2cm,0) circle (0.4mm);}]
\addplot[black, line width=1.1pt] coordinates {
(0,61)(10,52)(20,43)(31,34)(40,26)(50,17)(60,8.5)(69.2,0)(69.8,-1)};
\addlegendentry{Earth-Rosetta}
\addplot[marsgray, line width=1.1pt] coordinates {
(0,73.7)(31,60.5)(61,47)(92,33)(123,19)(153,6)(165.6,0)(166.6,-1)};
\addlegendentry{Mars-Rosetta}
\addplot[black, line width=1.1pt, forget plot] coordinates {
(68.5,361)(92,342)(123,317)(153,292.7)(184,265)(215,242.5)(245,216)(276,189)(305,164.5)(335,143.2)(365,128.2)(396,117.5)(418.5,109)(457,105.8)(488,103.6)(518,100.4)(549,89.7)(580,74.8)(610,55.6)(641,32)(670,10.7)(680.7,0)(681.5,-1)};
\addplot[black, line width=1.1pt, forget plot] coordinates {
(680,361)(701,344)(731,317)(762,292.7)(792,271)(823,245.7)(854,221)(884,192.3)};
\addplot[marsgray, line width=1.1pt, forget plot] coordinates {
(165,361)(183.4,349)(214.8,333)(245.2,317)(276,306.6)(304.8,298)(334.6,292.7)(364.7,290.6)(396,290.6)(418.5,292.7)(457,303.4)(488.4,317)(518.3,331)(549.4,337.6)(579.7,340.8)(610.4,338.7)(641,335.5)(670.3,329)(700.9,320.5)(731.3,312)(762.3,299)(792.3,288.5)(823.3,271)(854.3,258.5)(884.3,244.7)};
\node[anchor=base west, font=\labfont] at (rel axis cs:0.0058,0.804) {d};
\end{axis}
\end{tikzpicture}
\end{document}
